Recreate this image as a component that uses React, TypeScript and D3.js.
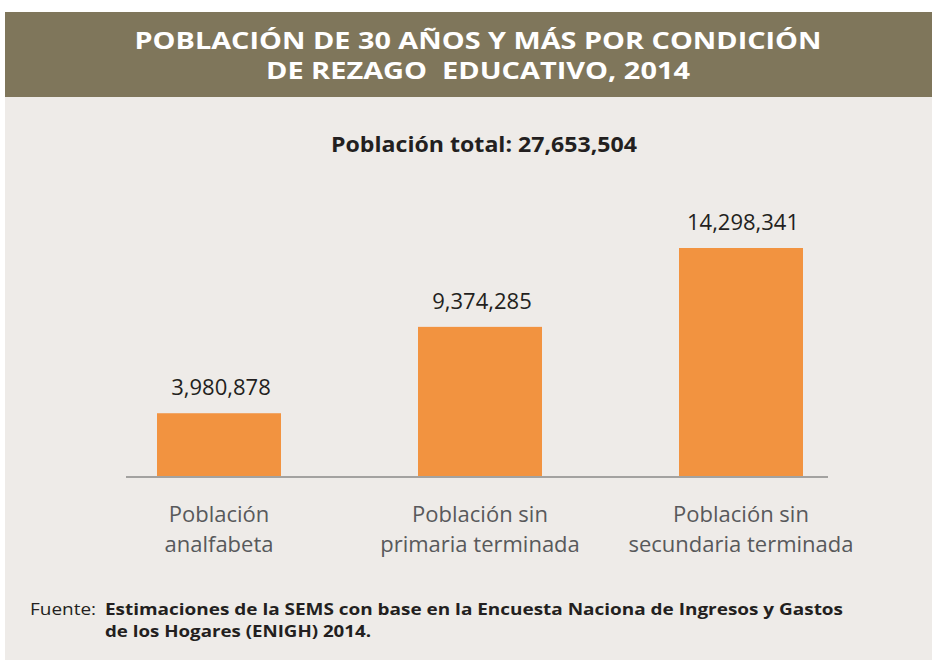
import * as d3 from "d3";
import { useEffect, useRef } from "react";

const categories = [
  ["Población", "analfabeta"],
  ["Población sin", "primaria terminada"],
  ["Población sin", "secundaria terminada"],
];
const values = [3980878, 9374285, 14298341];
const valueLabels = ["3,980,878", "9,374,285", "14,298,341"];
const titleLines = ["POBLACIÓN DE 30 AÑOS Y MÁS POR CONDICIÓN", "DE REZAGO  EDUCATIVO, 2014"];
const subtitle = "Población total: 27,653,504";
const sourceLines = [
  "Estimaciones de la SEMS con base en la Encuesta Naciona de Ingresos y Gastos",
  "de los Hogares (ENIGH) 2014.",
];

const W = 932;
const H = 660;

const App = () => {
  const chartRef = useRef<SVGSVGElement | null>(null);

  useEffect(() => {
    const svg = d3.select(chartRef.current);
    svg.selectAll("*").remove();
    const font = "'Open Sans', 'DejaVu Sans', sans-serif";

    // background panels
    svg.append("rect").attr("width", W).attr("height", H).attr("fill", "#ffffff");
    svg.append("rect")
      .attr("x", 5).attr("y", 97).attr("width", W - 5).attr("height", H - 97)
      .attr("fill", "#eeebe8");
    svg.append("rect")
      .attr("x", 5).attr("y", 12).attr("width", W - 5).attr("height", 85)
      .attr("fill", "#7f765b");

    // title
    const titleWidths = [687, 424];
    titleLines.forEach((t, i) => {
      svg.append("text")
        .attr("x", 478).attr("y", 49 + i * 30)
        .attr("text-anchor", "middle")
        .attr("font-family", font).attr("font-weight", 700).attr("font-size", 24)
        .attr("fill", "#ffffff")
        .attr("textLength", titleWidths[i]).attr("lengthAdjust", "spacingAndGlyphs")
        .style("white-space", "pre")
        .text(t);
    });

    svg.append("text")
      .attr("x", 484).attr("y", 152)
      .attr("text-anchor", "middle")
      .attr("font-family", font).attr("font-weight", 700).attr("font-size", 22)
      .attr("fill", "#231f20")
      .attr("textLength", 306).attr("lengthAdjust", "spacingAndGlyphs")
      .text(subtitle);

    // scales
    const scaleX = d3.scalePoint<number>()
      .domain(d3.range(values.length))
      .range([219, 741]);
    const baseline = 477;
    const scaleY = d3.scaleLinear()
      .domain([0, d3.max(values) as number])
      .range([baseline, 248]);
    const barWidth = 124;

    svg.selectAll(".bar")
      .data(values)
      .enter()
      .append("rect")
      .attr("x", (d, i) => (scaleX(i) as number) - barWidth / 2)
      .attr("y", d => scaleY(d))
      .attr("width", barWidth)
      .attr("height", d => baseline - scaleY(d))
      .attr("fill", "#f29340");

    svg.append("line")
      .attr("x1", 126).attr("x2", 828)
      .attr("y1", baseline).attr("y2", baseline)
      .attr("stroke", "#a3a2a0").attr("stroke-width", 2);

    svg.selectAll(".val")
      .data(values)
      .enter()
      .append("text")
      .attr("x", (d, i) => (scaleX(i) as number) + 2)
      .attr("y", d => scaleY(d) - 18)
      .attr("text-anchor", "middle")
      .attr("font-family", font).attr("font-size", 22)
      .attr("fill", "#231f20")
      .text((d, i) => valueLabels[i]);

    categories.forEach((lines, i) => {
      lines.forEach((l, j) => {
        svg.append("text")
          .attr("x", scaleX(i) as number).attr("y", 522 + j * 30)
          .attr("text-anchor", "middle")
          .attr("font-family", font).attr("font-size", 22)
          .attr("fill", "#58595b")
          .text(l);
      });
    });

    // source
    svg.append("text")
      .attr("x", 30).attr("y", 615)
      .attr("font-family", font).attr("font-size", 16)
      .attr("fill", "#231f20")
      .attr("textLength", 66).attr("lengthAdjust", "spacingAndGlyphs")
      .text("Fuente:");
    const srcWidths = [738, 266];
    sourceLines.forEach((l, i) => {
      svg.append("text")
        .attr("x", 105).attr("y", 615 + i * 22)
        .attr("font-family", font).attr("font-weight", 700).attr("font-size", 16)
        .attr("fill", "#231f20")
        .attr("textLength", srcWidths[i]).attr("lengthAdjust", "spacingAndGlyphs")
        .text(l);
    });
  }, []);

  return (
    <svg
      ref={chartRef}
      width={W}
      height={H}
      style={{ position: "absolute", left: 0, top: 0, display: "block" }}
    ></svg>
  );
};

export default App;
